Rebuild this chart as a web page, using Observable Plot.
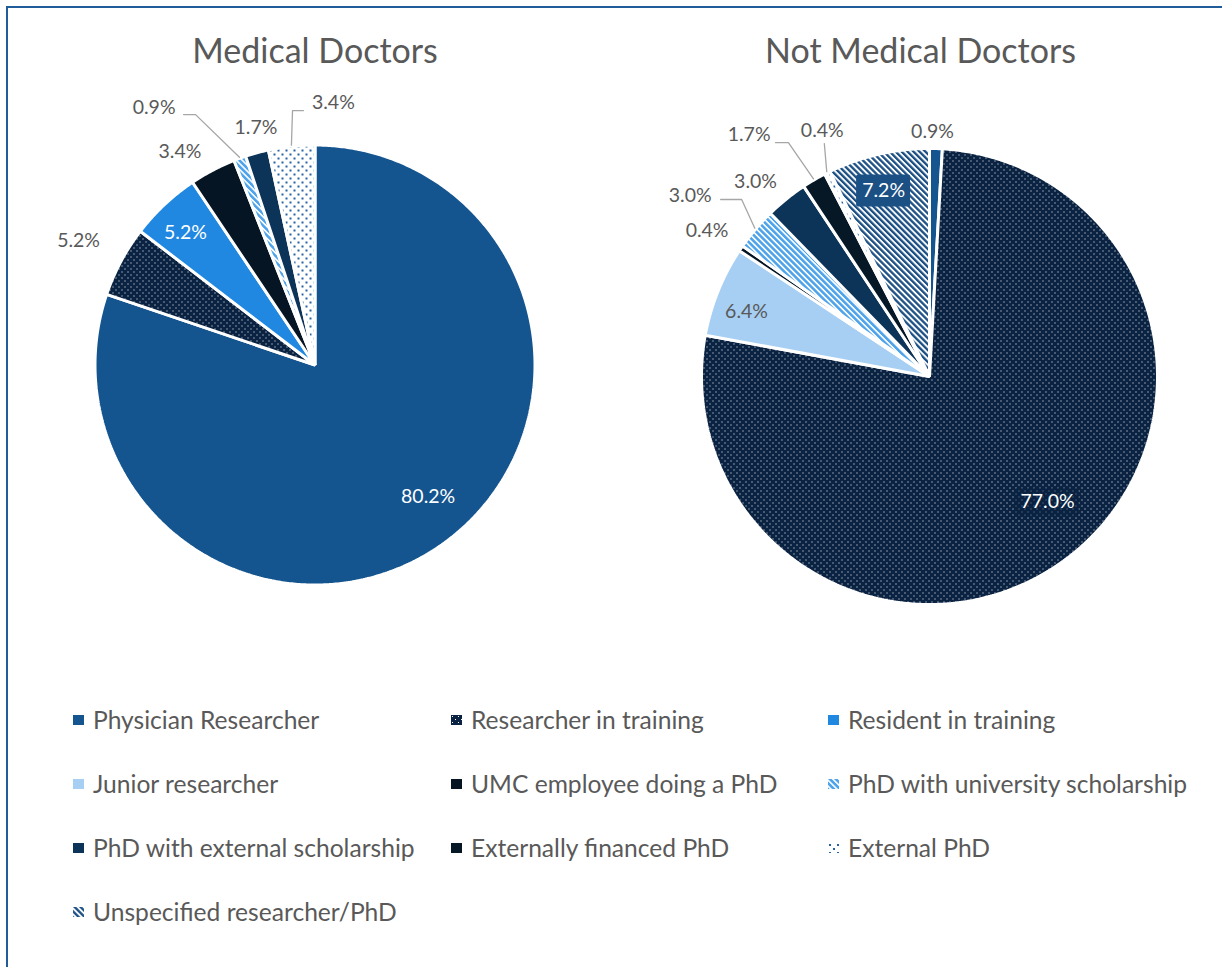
<!DOCTYPE html>
<html>
<head>
<meta charset="utf-8">
<script src="https://cdn.jsdelivr.net/npm/d3@7"></script>
<script src="https://cdn.jsdelivr.net/npm/@observablehq/plot@0.6"></script>
<style>
  html, body { margin: 0; padding: 0; background: #fff; width: 1222px; height: 967px; overflow: hidden; }
  #frame { position: absolute; left: 6px; top: 6px; width: 1260px; height: 1020px; border: 2px solid #1f5c99; box-sizing: border-box; }
  #chart { position: absolute; left: 0; top: 0; }
  #legend { position: absolute; left: 0; top: 0; font-family: Lato, "Open Sans", sans-serif; color: #595959; }
  .item { position: absolute; height: 30px; white-space: nowrap; }
  .item svg { position: absolute; left: 0; top: 10px; }
  .item span { position: absolute; left: 20px; top: 0; line-height: 30px; font-size: 24.6px; }
</style>
</head>
<body>
<svg width="0" height="0" style="position:absolute">
  <defs>
    <pattern id="pRIT" patternUnits="userSpaceOnUse" width="6" height="6">
      <rect width="6" height="6" fill="#0a2342"></rect>
      <rect x="1" y="1" width="1" height="1" fill="#ffffff" shape-rendering="crispEdges"></rect>
      <rect x="4" y="4" width="1" height="1" fill="#ffffff" shape-rendering="crispEdges"></rect>
    </pattern>
    <pattern id="pExt" patternUnits="userSpaceOnUse" width="8" height="8">
      <rect width="8" height="8" fill="#ffffff"></rect>
      <rect x="1" y="1" width="2" height="2" fill="#2562a3" shape-rendering="crispEdges"></rect>
      <rect x="5" y="5" width="2" height="2" fill="#2562a3" shape-rendering="crispEdges"></rect>
    </pattern>
    <pattern id="pUni" patternUnits="userSpaceOnUse" width="4.2" height="4.2" patternTransform="rotate(-45)">
      <rect width="4.2" height="4.2" fill="#ffffff"></rect>
      <rect width="2.6" height="4.2" fill="#4ea3ea"></rect>
    </pattern>
    <pattern id="pUns" patternUnits="userSpaceOnUse" width="4.2" height="4.2" patternTransform="rotate(-45)">
      <rect width="4.2" height="4.2" fill="#ffffff"></rect>
      <rect width="2.3" height="4.2" fill="#1b4f84"></rect>
    </pattern>
  </defs>
</svg>
<div id="frame"></div>
<div id="chart"></div>
<div id="legend"></div>
<script>
// ---------------- data ----------------
const categories = [
  "Physician Researcher",
  "Researcher in training",
  "Resident in training",
  "Junior researcher",
  "UMC employee doing a PhD",
  "PhD with university scholarship",
  "PhD with external scholarship",
  "Externally financed PhD",
  "External PhD",
  "Unspecified researcher/PhD"
];
const medicalDoctors    = [80.2, 5.2, 5.2, 0, 3.4, 0.9, 1.7, 0, 3.4, 0];
const notMedicalDoctors = [0.9, 77.0, 0, 6.4, 0.4, 3.0, 3.0, 1.7, 0.4, 7.2];
const pieTitles = ["Medical Doctors", "Not Medical Doctors"];

// ---------------- styles / layout ----------------
const sliceFill = [
  "#14548f", "url(#pRIT)", "#2088e0", "#a6cff3", "#061523",
  "url(#pUni)", "#0c3358", "#061826", "url(#pExt)", "url(#pUns)"
];
const INK = "#595959";

// label placement per slice: [angle (deg, clockwise from 12 o'clock), radius factor, ink]
const medLabels = [
  [139.4, 0.79, "#fff"], [297.8, 1.215, INK], [315.5, 0.84, "#fff"], null, [327.6, 1.146, INK],
  [328.0, 1.38, INK], [346.0, 1.11, INK], null, [4.0, 1.196, INK], null
];
const notMedLabels = [
  [0.7, 1.075, INK], [136.8, 0.756, "#fff"], null, [289.4, 0.851, INK], [303.2, 1.166, INK],
  [307.0, 1.314, INK], [318.2, 1.145, INK], [323.3, 1.324, INK], [336.4, 1.175, INK], [346.1, 0.838, "#fff"]
];
// leader lines: [elbow angle, elbow radius factor, horizontal run]
const medLeaders = [null, null, null, null, null, [334.5, 1.261, -12], null, null, [354.95, 1.161, 11], null];
const notMedLeaders = [null, null, null, null, null, [313.3, 1.132, -21], null, [328.9, 1.198, -13], [335.7, 1.121, 0], null];
// label background boxes: [fill, opacity, w, h]
const medBoxes = Array(10).fill(null);
const notMedBoxes = [null, ["#0a2342", 0.55, 64, 28], null, null, null, null, null, null, null, ["#1b5084", 1, 54, 32]];

const W = 1222, H = 690;
const pies = [
  {title: pieTitles[0], values: medicalDoctors, cx: 314.5, cy: 364.5, r: 220, titleX: 314.5,
   labels: medLabels, leaders: medLeaders, boxes: medBoxes},
  {title: pieTitles[1], values: notMedicalDoctors, cx: 929, cy: 376, r: 228, titleX: 920,
   labels: notMedLabels, leaders: notMedLeaders, boxes: notMedBoxes}
];

const pie = d3.pie().sort(null).value(d => d);
function polar(P, angDeg, k) {
  const a = angDeg * Math.PI / 180;
  return {x: P.cx + P.r * k * Math.sin(a), y: P.cy - P.r * k * Math.cos(a)};
}

const marks = [];
const labelRows = [];
const leaderRows = [];
const boxRows = [];
const titleRows = [];

for (const P of pies) {
  titleRows.push({x: P.titleX, y: 52, text: P.title});
  const arcs = pie(P.values);
  arcs.forEach((a, i) => {
    if (a.value <= 0) return;
    const pts = [{x: P.cx, y: P.cy}];
    const n = Math.max(2, Math.ceil((a.endAngle - a.startAngle) / (Math.PI / 360)));
    for (let k = 0; k <= n; k++) {
      const t = a.startAngle + (a.endAngle - a.startAngle) * k / n;
      pts.push({x: P.cx + P.r * Math.sin(t), y: P.cy - P.r * Math.cos(t)});
    }
    marks.push(Plot.line(pts, {x: "x", y: "y", curve: "linear-closed", fill: sliceFill[i],
      stroke: "#ffffff", strokeWidth: 3, strokeLinejoin: "miter"}));

    const L = P.labels[i];
    if (L) {
      const p = polar(P, L[0], L[1]);
      labelRows.push({x: p.x, y: p.y, text: a.value.toFixed(1) + "%", ink: L[2]});
      const B = P.boxes[i];
      if (B) boxRows.push({x1: p.x - B[2] / 2, x2: p.x + B[2] / 2, y1: p.y - B[3] / 2, y2: p.y + B[3] / 2, fill: B[0], op: B[1]});
    }
    const LD = P.leaders[i];
    if (LD) {
      const mid = (a.startAngle + a.endAngle) / 2 * 180 / Math.PI;
      const end = polar(P, mid, 1.005);
      const elbow = polar(P, LD[0], LD[1]);
      const id = leaderRows.length;
      leaderRows.push({id, x: elbow.x + LD[2], y: elbow.y});
      leaderRows.push({id, x: elbow.x, y: elbow.y});
      leaderRows.push({id, x: end.x, y: end.y});
    }
  });
}

marks.push(Plot.line(leaderRows, {x: "x", y: "y", z: "id", stroke: "#a6a6a6", strokeWidth: 1.3}));
marks.push(Plot.rect(boxRows, {x1: "x1", x2: "x2", y1: "y1", y2: "y2", fill: d => d.fill, fillOpacity: d => d.op, rx: 2}));
marks.push(Plot.text(labelRows, {x: "x", y: "y", text: "text", fill: d => d.ink, fontSize: 19.5}));
marks.push(Plot.text(titleRows, {x: "x", y: "y", text: "text", fill: INK, fontSize: 34}));

const chart = Plot.plot({
  width: W, height: H, margin: 0,
  x: {domain: [0, W], range: [0, W], axis: null},
  y: {domain: [0, H], range: [0, H], axis: null},
  color: {type: "identity"},
  opacity: {type: "identity"},
  style: {fontFamily: "Lato, 'Open Sans', sans-serif", background: "transparent", overflow: "visible"},
  marks
});
document.getElementById("chart").appendChild(chart);

// ---------------- legend ----------------
const legend = document.getElementById("legend");
const colX = [73, 451, 828];
const rowY = [720, 784, 848, 912];
categories.forEach((c, i) => {
  const col = i % 3, row = Math.floor(i / 3);
  const div = document.createElement("div");
  div.className = "item";
  div.style.left = colX[col] + "px";
  div.style.top = (rowY[row] - 15) + "px";
  div.innerHTML = `<svg width="11" height="10"><rect width="11" height="10" fill="${sliceFill[i]}"></rect></svg><span>${c}</span>`;
  legend.appendChild(div);
});
</script>
</body>
</html>
